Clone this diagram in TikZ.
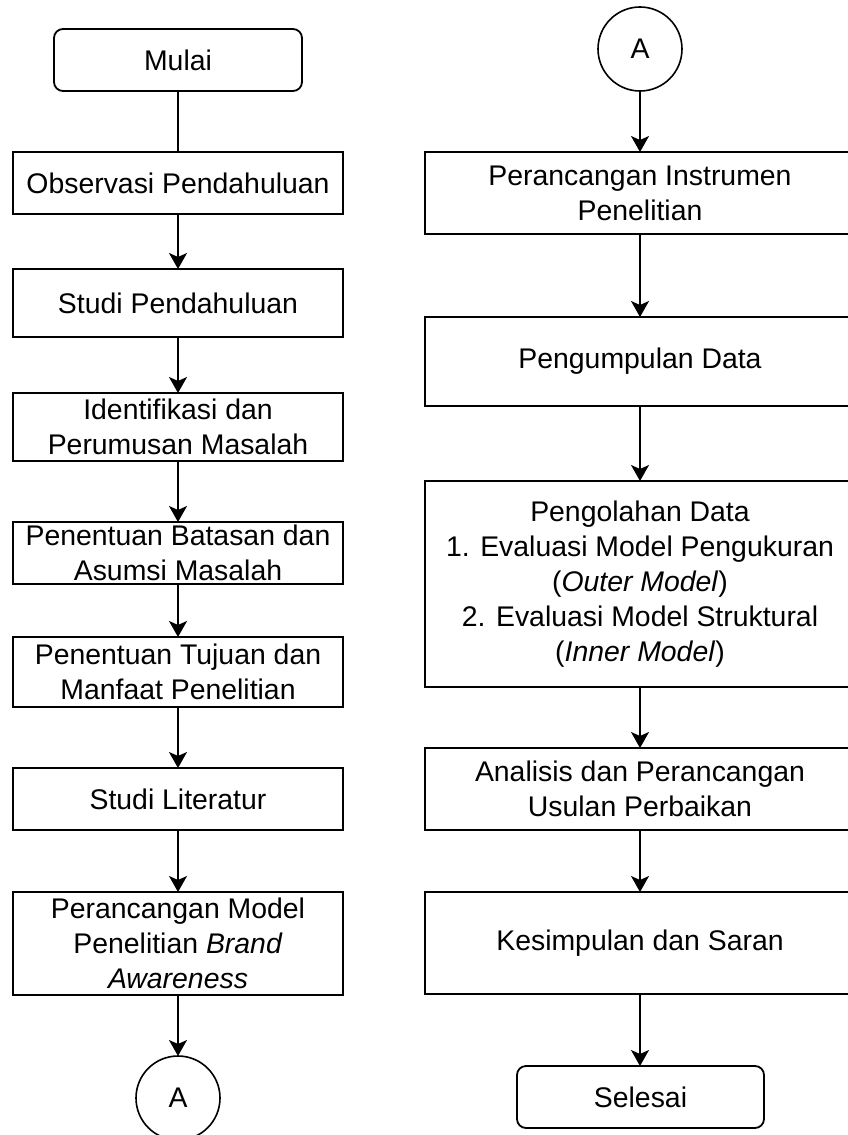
\documentclass[tikz,border=0pt]{standalone}
\usepackage{fontspec}
\setmainfont{Liberation Sans}
\usetikzlibrary{arrows.meta}
\begin{document}
\begin{tikzpicture}[x=1pt,y=-1pt,
  every node/.style={font=\fontsize{28.4}{35}\selectfont, align=center, inner sep=0pt, outer sep=0pt},
  proc/.style={draw, line width=1.8pt, rectangle, minimum width=#1},
  proc/.default=330pt,
  term/.style={draw, line width=1.8pt, rectangle, rounded corners=9pt, minimum width=248pt, minimum height=62pt},
  conn/.style={draw, line width=1.6pt, circle, minimum size=84pt},
  flow/.style={line width=1.8pt, -{Stealth[length=16pt,width=18pt,inset=4pt]}},
  plain/.style={line width=1.8pt}]
\useasboundingbox (0,0) rectangle (848,1135);
\clip (0,0) rectangle (848,1135);
% left column
\node[term] (mulai) at (178,60) {Mulai};
\node[proc, minimum height=62pt] (obs) at (178,183) {Observasi Pendahuluan};
\node[proc, minimum height=68pt] (studi) at (178,303) {Studi Pendahuluan};
\node[proc, minimum height=68pt] (ident) at (178,427) {Identifikasi dan\\Perumusan Masalah};
\node[proc, minimum height=62pt] (batas) at (178,553) {Penentuan Batasan dan\\Asumsi Masalah};
\node[proc, minimum height=70pt] (tujuan) at (178,672) {Penentuan Tujuan dan\\Manfaat Penelitian};
\node[proc, minimum height=62pt] (lit) at (178,799) {Studi Literatur};
\node[proc, minimum height=103pt] (model) at (178,943.5) {Perancangan Model\\Penelitian \textit{Brand}\\\textit{Awareness}};
\node[conn] (a1) at (178,1098) {A};
% right column
\node[conn] (a2) at (640,49) {A};
\node[proc=430pt, minimum height=82pt] (instr) at (640,193) {Perancangan Instrumen\\Penelitian};
\node[proc=430pt, minimum height=89pt] (kumpul) at (640,361.5) {Pengumpulan Data};
\node[proc=430pt, minimum height=206pt] (olah) at (640,584) {Pengolahan Data\\1. Evaluasi Model Pengukuran\\(\textit{Outer Model})\\2. Evaluasi Model Struktural\\(\textit{Inner Model})};
\node[proc=430pt, minimum height=82pt] (anal) at (640,789) {Analisis dan Perancangan\\Usulan Perbaikan};
\node[proc=430pt, minimum height=102pt] (simpul) at (640,943) {Kesimpulan dan Saran};
\node[term, minimum width=247pt] (selesai) at (640.5,1097) {Selesai};
% connectors
\draw[plain] (mulai) -- (obs);
\draw[flow] (obs) -- (studi);
\draw[flow] (studi) -- (ident);
\draw[flow] (ident) -- (batas);
\draw[flow] (batas) -- (tujuan);
\draw[flow] (tujuan) -- (lit);
\draw[flow] (lit) -- (model);
\draw[flow] (model) -- (a1);
\draw[flow] (a2) -- (instr);
\draw[flow] (instr) -- (kumpul);
\draw[flow] (kumpul) -- (olah);
\draw[flow] (olah) -- (anal);
\draw[flow] (anal) -- (simpul);
\draw[flow] (simpul.south) -- (selesai.north -| simpul.south);
\end{tikzpicture}
\end{document}
